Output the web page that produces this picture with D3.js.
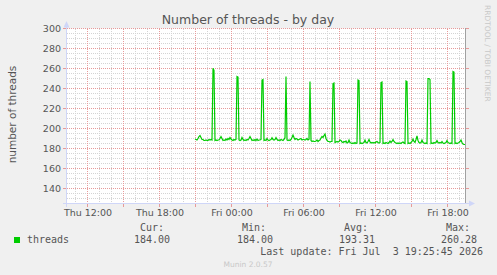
<!DOCTYPE html>
<html>
<head>
<meta charset="utf-8">
<script src="https://cdn.jsdelivr.net/npm/d3@7"></script>
<style>
  html, body { margin: 0; padding: 0; background: #f0f0f0; }
  svg { display: block; }
  text { font-family: "DejaVu Sans", sans-serif; }
  .mono { font-family: "DejaVu Sans Mono", monospace; font-size: 10px; fill: #555; }
</style>
</head>
<body>
<svg id="chart" width="497" height="275"></svg>
<script>
// graph window and data timing (5 minute samples)
const windowStart = new Date(2026, 6, 2, 10, 20);
const windowEnd = new Date(2026, 6, 3, 19, 40);
const dataStart = new Date(2026, 6, 2, 21, 0);
const stepMinutes = 5;

// number of threads, one value per 5 minutes, one row per 2 hours
const threads = [
  189.5, 189, 188.5, 190, 192, 193, 191, 189, 189, 188, 188, 188.5, 188, 188, 189, 188.5, 189, 188.5, 260.28, 258, 188, 188.5, 188, 188.5,
  188.5, 190, 192, 190, 188, 188.5, 188, 189.5, 188.5, 190, 189, 191, 189.5, 188.5, 188, 189, 188.5, 189, 252, 251.5, 188.5, 188, 188.5, 191,
  189, 188, 188.5, 188, 189, 188.5, 190, 192, 190, 188, 188.5, 188, 189, 188, 189.5, 188, 188.5, 188.5, 189, 248.5, 249, 188, 188.5, 188,
  190, 188.5, 188, 188.5, 189, 190.8, 189, 188.5, 189, 191, 189, 188, 188.5, 188, 189, 188.5, 188, 189, 191, 252, 188.5, 188, 188.5, 188,
  189, 191, 193.5, 191, 189, 190, 189.5, 188.5, 189, 189.5, 190, 188.5, 189, 189, 188.5, 189, 190, 188.5, 189, 247, 188, 187, 187.5, 187,
  187, 187.5, 188.5, 187, 188, 188.5, 190.5, 192, 191, 193, 194.5, 190, 188, 187, 187, 186.5, 187, 187, 245, 245.5, 186, 186.5, 187, 186.5,
  187, 188.5, 188, 186.5, 186, 187, 186.5, 187.5, 185.5, 186, 188.5, 186, 185.5, 185, 185.5, 185, 186, 185, 185.5, 248.5, 248, 185, 185.5, 185,
  185.5, 186, 188.5, 186, 185.5, 187, 189, 186.5, 185.5, 186, 185.5, 186, 185.5, 186.5, 187, 186, 185.5, 186, 246, 246.5, 185, 185.5, 185, 186,
  185.5, 185, 186, 187.5, 186, 187, 189, 187, 186, 185.5, 185, 185.5, 185, 185.5, 185, 186, 186.5, 185.5, 185, 247.5, 247, 185, 185.5, 185,
  186, 187, 189.5, 187, 186, 189, 192.5, 188, 186, 185.5, 186, 188.5, 186, 185.5, 185, 185.5, 185, 250, 250, 249, 185, 185.5, 185, 186,
  185.5, 186, 188, 186, 185.5, 186, 185.5, 187, 185.5, 185, 185.5, 186, 188, 186, 185.5, 185, 185.5, 185, 257, 256.5, 185, 185.5, 185, 185.5,
  186, 187, 188.5, 186, 184.5, 184, 184
];

const yTicks = [140, 160, 180, 200, 220, 240, 260, 280, 300];
const seriesName = "threads";
const legendLabels = ["Cur:", "Min:", "Avg:", "Max:"];
const legendValues = ["184.00", "184.00", "193.31", "260.28"];
const lastUpdate = "Last update: Fri Jul  3 19:25:45 2026";

let svg = d3.select("#chart");
let plotLeft = 67, plotRight = 467, plotTop = 28.5, plotBottom = 203.5;

let x = d3.scaleTime().domain([windowStart, windowEnd]).range([plotLeft, plotRight]);
let y = d3.scaleLinear().domain([125, 300]).range([plotBottom, plotTop]);

let points = threads.map(function (v, i) {
  return { t: new Date(dataStart.getTime() + i * stepMinutes * 60000), v: v };
});

svg.append("rect").attr("width", 497).attr("height", 275).attr("fill", "#f0f0f0");
svg.append("rect")
  .attr("x", plotLeft).attr("y", plotTop)
  .attr("width", 399).attr("height", plotBottom - plotTop)
  .attr("fill", "#ffffff");

let grid = svg.append("g").attr("shape-rendering", "crispEdges");

// horizontal grid: minor every 5, major every 20
let minorY = d3.range(130, 300, 5).filter(function (v) { return yTicks.indexOf(v) < 0; });
grid.selectAll(".hmin").data(minorY).enter().append("line")
  .attr("x1", plotLeft).attr("x2", 466)
  .attr("y1", function (d) { return Math.floor(y(d)) + 0.5; })
  .attr("y2", function (d) { return Math.floor(y(d)) + 0.5; })
  .attr("stroke", "#d4d4d4").attr("stroke-dasharray", "1,1");

// vertical grid: minor every hour, major every 3 hours
let hours = d3.timeHour.range(windowStart, windowEnd);
let minorX = hours.filter(function (d) { return d.getHours() % 3 !== 0; });
let majorX = hours.filter(function (d) { return d.getHours() % 3 === 0; });
grid.selectAll(".vmin").data(minorX).enter().append("line")
  .attr("x1", function (d) { return Math.round(x(d)) + 0.5; })
  .attr("x2", function (d) { return Math.round(x(d)) + 0.5; })
  .attr("y1", plotTop).attr("y2", plotBottom)
  .attr("stroke", "#d4d4d4").attr("stroke-dasharray", "1,1");

grid.selectAll(".hmaj").data(yTicks).enter().append("line")
  .attr("x1", plotLeft).attr("x2", 466)
  .attr("y1", function (d) { return Math.floor(y(d)) + 0.5; })
  .attr("y2", function (d) { return Math.floor(y(d)) + 0.5; })
  .attr("stroke", "#e79a9a").attr("stroke-dasharray", "1,1");
grid.selectAll(".vmaj").data(majorX).enter().append("line")
  .attr("x1", function (d) { return Math.round(x(d)) + 0.5; })
  .attr("x2", function (d) { return Math.round(x(d)) + 0.5; })
  .attr("y1", plotTop).attr("y2", plotBottom)
  .attr("stroke", "#e79a9a").attr("stroke-dasharray", "1,1");

// small solid ticks outside the plot
grid.selectAll(".tl").data(yTicks).enter().append("line")
  .attr("x1", 63).attr("x2", 66)
  .attr("y1", function (d) { return Math.floor(y(d)) + 0.5; })
  .attr("y2", function (d) { return Math.floor(y(d)) + 0.5; })
  .attr("stroke", "#e79a9a");
grid.selectAll(".tr").data(yTicks).enter().append("line")
  .attr("x1", 466).attr("x2", 469)
  .attr("y1", function (d) { return Math.floor(y(d)) + 0.5; })
  .attr("y2", function (d) { return Math.floor(y(d)) + 0.5; })
  .attr("stroke", "#e79a9a");
grid.selectAll(".tb").data(majorX).enter().append("line")
  .attr("x1", function (d) { return Math.round(x(d)) + 0.5; })
  .attr("x2", function (d) { return Math.round(x(d)) + 0.5; })
  .attr("y1", 204).attr("y2", 207)
  .attr("stroke", "#e79a9a");

// right frame line
grid.append("line")
  .attr("x1", 465.5).attr("x2", 465.5).attr("y1", 28).attr("y2", 204)
  .attr("stroke", "#a0a0a0");

// axes with arrows
let axisColor = "#cfd6f8";
grid.append("line")
  .attr("x1", 66.5).attr("x2", 66.5).attr("y1", 24).attr("y2", 207)
  .attr("stroke", axisColor);
grid.append("line")
  .attr("x1", 63).attr("x2", 470).attr("y1", 203.5).attr("y2", 203.5)
  .attr("stroke", axisColor);
svg.append("path").attr("d", "M63.5,27.5 L69.5,27.5 L66.5,21 Z").attr("fill", axisColor);
svg.append("path").attr("d", "M469,200.5 L469,206.5 L475,203.5 Z").attr("fill", axisColor);

// data line
let line = d3.line()
  .x(function (d) { return x(d.t); })
  .y(function (d) { return y(d.v); });
svg.append("path")
  .datum(points)
  .attr("d", line)
  .attr("fill", "none")
  .attr("stroke", "#00cc00")
  .attr("stroke-width", 1.2);

// y labels
svg.selectAll(".ylab").data(yTicks).enter().append("text")
  .attr("x", 61).attr("y", function (d) { return y(d) + 3.5; })
  .attr("text-anchor", "end")
  .attr("font-size", "9.5px").attr("fill", "#555")
  .text(function (d) { return d; });

// x labels
let labelHours = hours.filter(function (d) { return d.getHours() % 6 === 0; });
svg.selectAll(".xlab").data(labelHours).enter().append("text")
  .attr("x", function (d) { return x(d) + 1; }).attr("y", 216)
  .attr("text-anchor", "middle")
  .attr("font-size", "9.5px").attr("fill", "#555")
  .text(d3.timeFormat("%a %H:%M"));

// title and axis label
svg.append("text")
  .attr("x", 248).attr("y", 24)
  .attr("text-anchor", "middle")
  .attr("font-size", "12.5px").attr("fill", "#555")
  .text("Number of threads - by day");
svg.append("text")
  .attr("transform", "translate(15.5,114.5) rotate(-90)")
  .attr("text-anchor", "middle")
  .attr("font-size", "10.5px").attr("fill", "#555")
  .text("number of threads");

svg.append("text")
  .attr("transform", "translate(485,5) rotate(90)")
  .attr("font-size", "7.5px").attr("fill", "#c8c8c8")
  .text("RRDTOOL / TOBI OETIKER");

// legend
svg.append("rect").attr("x", 14).attr("y", 237).attr("width", 6).attr("height", 6).attr("fill", "#00cc00");
svg.append("text").attr("class", "mono").attr("x", 27).attr("y", 243).text(seriesName);
let labelEnds = [164, 266, 368, 470];
let valueEnds = [170, 273, 375, 477];
svg.selectAll(".lgl").data(legendLabels).enter().append("text")
  .attr("class", "mono").attr("text-anchor", "end")
  .attr("x", function (d, i) { return labelEnds[i]; }).attr("y", 231)
  .text(function (d) { return d; });
svg.selectAll(".lgv").data(legendValues).enter().append("text")
  .attr("class", "mono").attr("text-anchor", "end")
  .attr("x", function (d, i) { return valueEnds[i]; }).attr("y", 243)
  .text(function (d) { return d; });
svg.append("text").attr("class", "mono").attr("text-anchor", "end")
  .attr("x", 483).attr("y", 254.5)
  .style("white-space", "pre")
  .text(lastUpdate);

svg.append("text")
  .attr("x", 248).attr("y", 267)
  .attr("text-anchor", "middle")
  .attr("font-size", "7.5px").attr("fill", "#c8c8c8")
  .text("Munin 2.0.57");
</script>
</body>
</html>
